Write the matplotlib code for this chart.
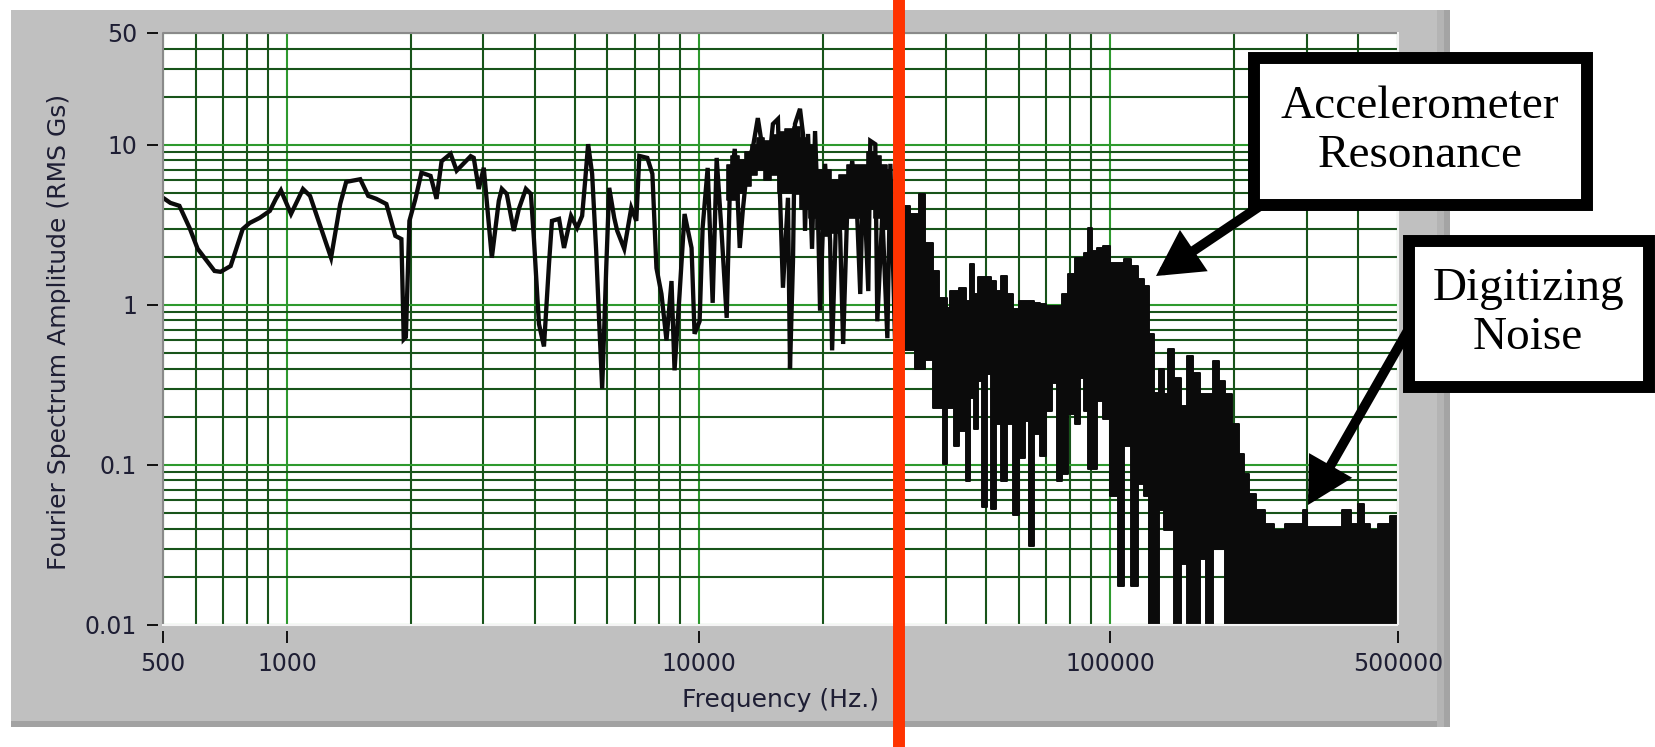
import matplotlib.pyplot as plt
from matplotlib.patches import Rectangle, FancyArrowPatch
from matplotlib.lines import Line2D
from matplotlib.ticker import NullFormatter

plt.rcParams["font.family"] = ["DejaVu Sans"]

W, H = 1655, 747
PANEL = "#c0c0c0"
INK = "#0b0b0b"
TXT = "#1e1e34"
RED = "#ff3300"
MAJOR_GRID = "#2e9a2e"
MINOR_GRID = "#18541a"

# spectrum drawn as a line (500 Hz - ~31 kHz)
LINE_FREQ = [500, 521, 548, 580, 607, 667, 690, 730, 781, 812,
             859, 909, 940, 967, 1023, 1094, 1138, 1280, 1347, 1393,
             1507, 1576, 1649, 1744, 1834, 1897, 1922, 1945, 1984, 2052,
             2122, 2233, 2309, 2375, 2498, 2584, 2795, 2843, 2924, 3007,
             3146, 3271, 3327, 3420, 3557, 3659, 3806, 3914, 3981, 4095,
             4211, 4331, 4404, 4581, 4711, 4900, 5069, 5213, 5302, 5391,
             5513, 5639, 5734, 5832, 5965, 6066, 6238, 6344, 6598, 6863,
             7058, 7178, 7508, 7722, 7900, 8125, 8356, 8594, 8741, 8990,
             9245, 9614, 9777, 10057, 10228, 10520, 10819, 11064, 11379, 11703,
             11902, 12241, 12449, 12589, 12803, 13167, 13542, 13928, 14245, 14487,
             14734, 15154, 15586, 15762, 16030, 16487, 16673, 16956, 17145, 17634,
             17934, 18136, 18444, 18862, 19182, 19508, 19727, 20289, 20867, 21102,
             21703, 22071, 22446, 22961, 23615, 24289, 24700, 25119, 25834, 26126,
             26870, 27173, 27947, 28743, 29234, 30000, 30800, 31500]
LINE_AMP = [4.67, 4.34, 4.16, 3.03, 2.24, 1.63, 1.61, 1.75, 2.98, 3.25,
            3.5, 3.87, 4.6, 5.2, 3.7, 5.3, 4.8, 1.97, 4.27, 5.87,
            6.1, 4.8, 4.6, 4.27, 2.7, 2.58, 0.61, 0.63, 3.35, 4.6,
            6.7, 6.4, 4.6, 7.9, 8.8, 6.9, 8.5, 8.3, 5.3, 7.2,
            1.97, 4.47, 5.31, 4.94, 2.90, 3.98, 5.31, 4.94, 2.58, 0.76,
            0.55, 1.80, 3.35, 3.45, 2.27, 3.60, 3.03, 3.60, 5.96, 10.1,
            6.59, 2.18, 0.79, 0.30, 1.70, 5.39, 3.50, 2.90, 2.24, 4.04,
            3.35, 8.53, 8.29, 6.59, 1.70, 1.17, 0.60, 1.41, 0.39, 1.17,
            3.70, 2.27, 0.66, 0.79, 3.03, 7.18, 1.03, 8.29, 2.78, 0.83,
            4.94, 9.44, 4.47, 2.27, 3.87, 7.94, 9.57, 14.7, 10.1, 7.94,
            6.59, 13.5, 14.5, 4.94, 1.28, 4.67, 0.40, 1.88, 13.5, 16.8,
            11.7, 2.90, 11.7, 2.24, 12.2, 3.50, 0.92, 7.61, 2.51, 0.52,
            5.70, 2.78, 0.57, 3.87, 7.94, 3.50, 1.17, 7.18, 1.22, 10.6,
            10.1, 0.79, 3.70, 0.62, 7.61, 0.6, 3.0, 0.9]

# solid core of the busy 12-29 kHz stretch (upper / lower edge)
MID_FREQ = [11703, 12241, 12800, 13167, 13600, 14087, 14700, 15325, 15800, 16673,
            17200, 18136, 18900, 19727, 20600, 21460, 22400, 23357, 24300, 25100,
            26126, 27200, 28200, 29234]
MID_TOP = [7.5, 8.5, 8.0, 9.0, 10.0, 11.0, 10.5, 11.5, 12.0, 12.5,
           13.0, 11.0, 10.0, 7.0, 7.0, 6.0, 6.5, 7.5, 7.5, 7.5,
           9.0, 8.5, 7.5, 7.0]
MID_BOTTOM = [4.5, 4.5, 5.0, 5.5, 6.5, 7.0, 6.0, 6.5, 5.0, 5.0,
              4.9, 4.0, 3.5, 3.0, 2.7, 2.8, 3.0, 3.5, 3.5, 3.5,
              4.0, 3.5, 3.0, 3.0]

# dense high-frequency part: upper and lower edge of the black band
HF_FREQ = [31000, 32160, 33070, 34010, 34600, 36390, 37840, 38700, 39810, 40490,
           41180, 42120, 43810, 45310, 46070, 47120, 48190, 49560, 50690, 52130,
           53620, 55150, 57030, 58980, 61350, 62740, 64160, 66370, 68640, 71000,
           73020, 75100, 77670, 80330, 83560, 85460, 87410, 89390, 91410, 94000,
           97780, 102270, 106370, 110020, 114420, 118990, 122400, 125890, 129500, 133200,
           136200, 140100, 145700, 150700, 155900, 162100, 167700, 174400, 181400, 186500,
           194000, 201800, 208700, 214700, 220800, 230900, 245600, 255500, 274800, 290000,
           297400, 304000, 330700, 355000, 376300, 393600, 404800, 421000, 435500, 460700,
           495600, 500000]
HF_TOP = [3.0, 4.16, 3.70, 3.70, 4.94, 2.44, 1.63, 1.11, 1.11, 0.96,
          1.22, 1.22, 1.28, 1.06, 1.80, 1.17, 1.50, 1.50, 1.50, 1.41,
          1.22, 1.52, 1.17, 0.94, 1.06, 1.06, 1.06, 1.03, 1.01, 0.99,
          0.99, 0.99, 1.17, 1.56, 1.97, 1.97, 2.11, 3.03, 2.18, 2.27,
          2.34, 1.83, 1.83, 1.94, 1.75, 1.45, 1.31, 0.66, 0.28, 0.40,
          0.278, 0.53, 0.35, 0.234, 0.48, 0.376, 0.278, 0.278, 0.447, 0.335,
          0.278, 0.18, 0.117, 0.088, 0.066, 0.052, 0.043, 0.039, 0.043, 0.043,
          0.052, 0.041, 0.041, 0.041, 0.052, 0.043, 0.057, 0.043, 0.039, 0.043,
          0.048, 0.048]
HF_BOTTOM = [0.5, 0.52, 0.52, 0.40, 0.40, 0.45, 0.227, 0.227, 0.101, 0.227,
             0.227, 0.131, 0.163, 0.079, 0.262, 0.168, 0.335, 0.055, 0.37, 0.053,
             0.18, 0.079, 0.18, 0.049, 0.111, 0.188, 0.031, 0.156, 0.114, 0.218,
             0.326, 0.079, 0.088, 0.208, 0.18, 0.35, 0.218, 0.094, 0.094, 0.25,
             0.194, 0.064, 0.0175, 0.131, 0.0175, 0.076, 0.064, 0.005, 0.005, 0.052,
             0.039, 0.039, 0.005, 0.024, 0.005, 0.005, 0.026, 0.005, 0.030, 0.030,
             0.005, 0.005, 0.005, 0.005, 0.005, 0.005, 0.005, 0.005, 0.005, 0.005,
             0.005, 0.005, 0.005, 0.005, 0.005, 0.005, 0.005, 0.005, 0.005, 0.005,
             0.005, 0.005]

X_TICKS = [500, 1000, 10000, 100000, 500000]
X_TICK_LABELS = ["500", "1000", "10000", "100000", "500000"]
Y_TICKS = [0.01, 0.1, 1, 10, 50]
Y_TICK_LABELS = ["0.01", "0.1", "1", "10", "50"]


def fx(x):
    return x / W


def fy(y):
    return 1 - y / H


fig = plt.figure(figsize=(W / 100, H / 100), dpi=100)
fig.patch.set_facecolor("white")

# LabVIEW-style grey panel
fig.add_artist(Rectangle((fx(11), fy(727)), (1450 - 11) / W, (727 - 10) / H,
                         transform=fig.transFigure, fc=PANEL, ec="none", zorder=-10))
fig.add_artist(Rectangle((fx(11), fy(727)), (1450 - 11) / W, 6 / H,
                         transform=fig.transFigure, fc="#a2a2a2", ec="none", zorder=-9))
fig.add_artist(Rectangle((fx(1437), fy(727)), 7 / W, (727 - 10) / H,
                         transform=fig.transFigure, fc="#b4b4b4", ec="none", zorder=-9))
fig.add_artist(Rectangle((fx(1444), fy(727)), 6 / W, (727 - 10) / H,
                         transform=fig.transFigure, fc="#a4a4a4", ec="none", zorder=-9))

ax = fig.add_axes([fx(163), fy(625), (1398 - 163) / W, (625 - 33) / H])
ax.set_facecolor("white")
ax.set_xscale("log")
ax.set_yscale("log")

ax.plot(LINE_FREQ, LINE_AMP, color=INK, lw=3.1, solid_joinstyle="miter", zorder=3)
ax.fill_between(MID_FREQ, MID_BOTTOM, MID_TOP, step="mid", color=INK,
                edgecolor=INK, lw=1.2, zorder=3)
ax.fill_between(HF_FREQ, HF_BOTTOM, HF_TOP, step="mid", color=INK,
                edgecolor=INK, lw=1.4, zorder=3)

ax.set_xlim(500, 500000)
ax.set_ylim(0.01, 50)
ax.set_xticks(X_TICKS)
ax.set_xticklabels(X_TICK_LABELS)
ax.set_yticks(Y_TICKS)
ax.set_yticklabels(Y_TICK_LABELS)
ax.xaxis.set_minor_formatter(NullFormatter())
ax.yaxis.set_minor_formatter(NullFormatter())

for side in ax.spines:
    ax.spines[side].set_visible(False)
ax.spines["left"].set_position(("outward", 3.6))
ax.spines["bottom"].set_position(("outward", 4.3))

ax.tick_params(which="major", direction="out", color="#111111", width=1.4,
               labelsize=17, labelcolor=TXT)
ax.tick_params(axis="y", which="major", length=7.9, pad=7.2)
ax.tick_params(axis="x", which="major", length=8.6, pad=6.5)
ax.tick_params(which="minor", length=0)

ax.set_axisbelow(True)
ax.grid(True, which="minor", color=MINOR_GRID, lw=1.5)
ax.grid(True, which="major", color=MAJOR_GRID, lw=1.5)

# inset frame of the plot area
ax.plot([0, 0, 1], [0, 1, 1], transform=ax.transAxes, color="#8a8a8a", lw=1.5,
        clip_on=False, zorder=5)
ax.plot([0, 1, 1], [0, 0, 1], transform=ax.transAxes, color="#f4f4f4", lw=1.5,
        clip_on=False, zorder=5)

ax.set_xlabel("Frequency (Hz.)", fontsize=18, color=TXT)
ax.set_ylabel("Fourier Spectrum Amplitude (RMS Gs)", fontsize=18, color=TXT)
ax.xaxis.set_label_coords(0.5, -(688 - 625) / 592)
ax.yaxis.set_label_coords((71 - 163) / 1235, 0.495)

# red marker line across the whole picture
fig.add_artist(Line2D([fx(899), fx(899)], [0, 1], transform=fig.transFigure,
                      color=RED, lw=8.6, solid_capstyle="butt", zorder=20))

# callout arrows
arrow_style = "-|>,head_length=1.1,head_width=0.6"
fig.add_artist(FancyArrowPatch((fx(1266), fy(202)), (fx(1156), fy(276)),
                               transform=fig.transFigure, arrowstyle=arrow_style,
                               mutation_scale=20, lw=7, color="black",
                               shrinkA=0, shrinkB=0, joinstyle="miter", zorder=25))
fig.add_artist(FancyArrowPatch((fx(1415), fy(318)), (fx(1308), fy(505)),
                               transform=fig.transFigure, arrowstyle=arrow_style,
                               mutation_scale=20, lw=7, color="black",
                               shrinkA=0, shrinkB=0, joinstyle="miter", zorder=25))

# callout boxes
fig.add_artist(Rectangle((fx(1254), fy(205)), (1587 - 1254) / W, (205 - 58) / H,
                         transform=fig.transFigure, fc="white", ec="black",
                         lw=8.6, joinstyle="miter", zorder=30))
fig.text(fx(1420), fy(131), "Accelerometer\nResonance", ha="center", va="center",
         family="Liberation Serif", size=34, linespacing=1.2, zorder=31)
fig.add_artist(Rectangle((fx(1409), fy(387)), (1649 - 1409) / W, (387 - 241) / H,
                         transform=fig.transFigure, fc="white", ec="black",
                         lw=8.6, joinstyle="miter", zorder=30))
fig.text(fx(1528), fy(313), "Digitizing\nNoise", ha="center", va="center",
         family="Liberation Serif", size=34, linespacing=1.2, zorder=31)

fig.savefig("out.png", dpi=100)
plt.close(fig)
